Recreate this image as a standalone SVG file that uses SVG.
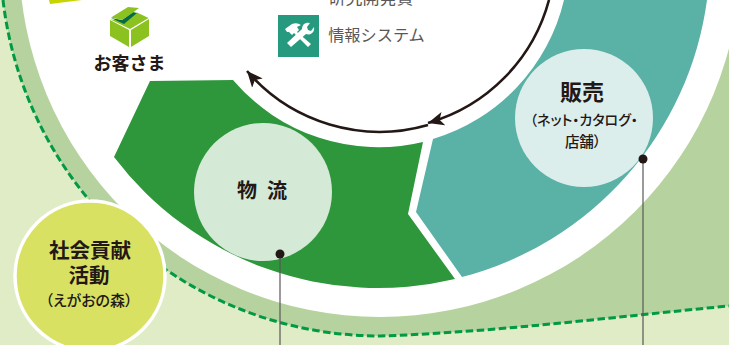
<svg xmlns="http://www.w3.org/2000/svg" width="729" height="345" viewBox="0 0 729 345">
<style>
text{font-family:"Noto Sans CJK JP","Noto Sans",sans-serif;fill:#231815;text-anchor:middle;font-feature-settings:"palt"}
.b{font-weight:700}
.m{font-weight:500}
.g{fill:#595757}
.full{font-feature-settings:normal}
.lead{stroke:#595757;stroke-width:1.2;fill:none}
.dot{fill:#231815}
.arc{fill:none;stroke:#231815;stroke-width:2.6}
.box{fill:#8CC220}
</style>
<defs>
<marker id="ah" markerUnits="userSpaceOnUse" markerWidth="20" markerHeight="20" refX="16" refY="8" orient="auto"><path d="M16,8 L0,1 L4,8 L0,15Z" fill="#231815"/></marker>
</defs>
<g id="background">
<rect width="729" height="345" fill="#DFECC5"/>
<path d="M3,0 A380,380 0 0 0 380,336 C500,332 620,316 729,306 L729,0Z" fill="#B6D29E"/>
<path d="M3,0 A380,380 0 0 0 380,336 C500,332 620,316 729,306" fill="none" stroke="#009944" stroke-width="3" stroke-dasharray="7.5 3.5"/>
<circle cx="380" cy="-44" r="361" fill="#fff"/>
<path d="M49,0 L82,0 L50,4Z" fill="#C8D400"/>
</g>
<g id="node-logistics">
<path d="M150,81 L233,80 A191,191 0 0 0 423,142 L408,214 L455,279 A332,332 0 0 1 114,157Z" fill="#2E973B"/>
<circle cx="263" cy="192" r="69" fill="#D5E9D7"/>
<text x="267" y="198" font-size="20" class="b" letter-spacing="10">物流</text>
</g>
<g id="node-sales">
<path d="M433,139 A191,191 0 0 0 564,0 L707,0 A332,332 0 0 1 462,277 L416,212Z" fill="#5AB1A6"/>
<circle cx="584" cy="118" r="69" fill="#DCEEEB"/>
<text x="582" y="100" font-size="22" class="b">販売</text>
<text x="584" y="125" font-size="14" class="m">（ネット・カタログ・</text>
<text x="583" y="147" font-size="14.500" class="m">店舗）</text>
</g>
<g id="node-customer">
<path class="box" d="M110,20 L129,30 L129,47 L110,36Z"/>
<path class="box" d="M131,30 L149,19 L149,36 L131,47Z"/>
<path class="box" d="M110.5,19.5 L130,29 L148.5,18 L137,12.5 L124,21Z"/>
<path d="M111,18 L124,24 L137,13 L133,12 L122,20Z" fill="#056B45"/>
<path class="box" d="M111,17.5 L128,7 L139,8 L133,12.5 L122,20Z"/>
<text x="129.500" y="70" font-size="18" class="b full">お客さま</text>
</g>
<g id="node-it">
<text x="371" y="3.500" font-size="17" class="g full">研究開発費</text>
<rect x="278" y="15" width="41" height="42" fill="#259A7E"/>
<path d="M285,29 L292,24 Q297,22 301,25 L297,27 L299,30 L297,32 L311,44 L308,47 L294,33 L292,35 L289,32 L287,32Z" fill="#fff"/>
<path d="M287,43 L302,29 A6,6 0 0 1 310,23 L307,27 L308,30 L311,31 L314,27 A6,6 0 0 1 306,34 L291,47Z" fill="#fff"/>
<text x="376.500" y="41" font-size="16.200" class="g full">情報システム</text>
</g>
<g id="node-csr">
<circle cx="90" cy="276" r="75" fill="#D9E162" stroke="#fff" stroke-width="3.5"/>
<text x="90" y="258" font-size="20.500" class="b">社会貢献</text>
<text x="89" y="283" font-size="20.500" class="b">活動</text>
<text x="89" y="306" font-size="15" class="m">（えがおの森）</text>
</g>
<g id="connectors">
<path class="arc" d="M549,0 A175,175 0 0 1 428,123" marker-end="url(#ah)"/>
<path class="arc" d="M428,125 A175,175 0 0 1 247,71" marker-end="url(#ah)"/>
<path class="lead" d="M280,254 V345"/>
<path class="lead" d="M643,159 V345"/>
<circle class="dot" cx="280" cy="254" r="4.500"/>
<circle class="dot" cx="643" cy="159" r="4.500"/>
</g>
</svg>
